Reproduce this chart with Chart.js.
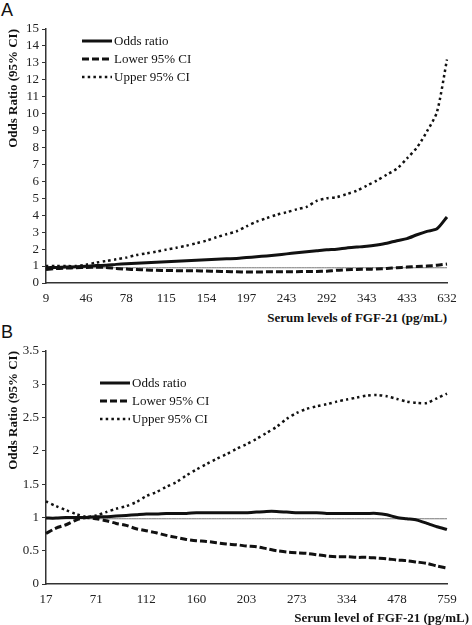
<!DOCTYPE html>
<html>
<head>
<meta charset="utf-8">
<script src="https://cdn.jsdelivr.net/npm/chart.js@4.4.1/dist/chart.umd.min.js"></script>
<style>
  body { margin: 0; background: #fff; width: 472px; height: 625px; position: relative; overflow: hidden; }
  .box { position: absolute; left: 0; width: 472px; }
  .panel { position: absolute; left: 1px; font: 18px "Liberation Sans", Arial, sans-serif; color: #111; }
  .xtitle { position: absolute; font: bold 13px "Liberation Serif", serif; color: #111; white-space: nowrap; }
</style>
</head>
<body>
<div class="panel" style="top:0">A</div>
<div class="box" style="top:0;height:310px"><canvas id="chartA"></canvas></div>
<div class="xtitle" style="top:310px;right:25px">Serum levels of FGF-21 (pg/mL)</div>

<div class="panel" style="top:322px">B</div>
<div class="box" style="top:330px;height:285px"><canvas id="chartB"></canvas></div>
<div class="xtitle" style="top:610px;right:3px">Serum level of FGF-21 (pg/mL)</div>

<script>
// tick labels shown under each x axis
const ticksA = ['9', '46', '78', '115', '154', '197', '243', '292', '343', '433', '632'];
const ticksB = ['17', '71', '112', '160', '203', '273', '334', '478', '759'];

// panel A: values (41 points, a label every 4th)
const oddsA = [0.90, 0.92, 0.94, 0.96, 0.99, 1.03, 1.05, 1.10, 1.14, 1.17,
               1.20, 1.23, 1.25, 1.28, 1.31, 1.34, 1.37, 1.40, 1.43, 1.45,
               1.50, 1.55, 1.60, 1.66, 1.72, 1.78, 1.84, 1.90, 1.96, 2.00,
               2.07, 2.12, 2.17, 2.25, 2.35, 2.50, 2.62, 2.85, 3.05, 3.20, 3.90];
const lowerA = [0.80, 0.85, 0.88, 0.90, 0.92, 0.93, 0.92, 0.86, 0.82, 0.79,
                0.77, 0.75, 0.74, 0.73, 0.72, 0.72, 0.71, 0.69, 0.68, 0.66,
                0.65, 0.65, 0.66, 0.66, 0.67, 0.67, 0.68, 0.68, 0.70, 0.75,
                0.78, 0.80, 0.81, 0.83, 0.86, 0.90, 0.94, 0.97, 1.00, 1.05, 1.12];
const upperA = [1.00, 1.00, 1.00, 1.00, 1.08, 1.20, 1.30, 1.40, 1.50, 1.65,
                1.75, 1.85, 1.97, 2.08, 2.20, 2.35, 2.50, 2.70, 2.88, 3.05,
                3.35, 3.62, 3.83, 4.03, 4.18, 4.35, 4.50, 4.85, 5.00, 5.07,
                5.25, 5.45, 5.75, 6.05, 6.40, 6.75, 7.35, 8.00, 8.95, 10.10, 13.20];
const refA = 0.9;

// panel B: 41 points, a label every 5th
const oddsB = [0.99, 0.99, 1.00, 1.00, 1.00, 1.01, 1.01, 1.02, 1.03, 1.04,
               1.05, 1.05, 1.06, 1.06, 1.06, 1.07, 1.07, 1.07, 1.07, 1.07,
               1.07, 1.08, 1.09, 1.09, 1.08, 1.07, 1.07, 1.07, 1.06, 1.06,
               1.06, 1.06, 1.06, 1.06, 1.04, 1.00, 0.98, 0.96, 0.91, 0.86, 0.82];
const lowerB = [0.76, 0.84, 0.89, 0.96, 1.00, 0.98, 0.95, 0.91, 0.88, 0.83,
                0.80, 0.77, 0.73, 0.70, 0.67, 0.65, 0.64, 0.62, 0.60, 0.59,
                0.57, 0.56, 0.53, 0.50, 0.48, 0.47, 0.46, 0.44, 0.42, 0.41,
                0.41, 0.40, 0.40, 0.39, 0.38, 0.36, 0.35, 0.33, 0.31, 0.27, 0.24];
const upperB = [1.24, 1.17, 1.11, 1.05, 1.01, 1.03, 1.08, 1.13, 1.17, 1.23,
                1.32, 1.38, 1.46, 1.53, 1.63, 1.72, 1.80, 1.88, 1.95, 2.03,
                2.10, 2.18, 2.27, 2.36, 2.48, 2.57, 2.63, 2.67, 2.70, 2.74,
                2.77, 2.80, 2.83, 2.84, 2.82, 2.78, 2.74, 2.72, 2.72, 2.79, 2.86];
const refB = 0.98;

const serif = '"Liberation Serif", "Times New Roman", serif';
const ink = '#111';

// legend drawn inside the plot, using each dataset's own line style
const inlineLegend = {
  id: 'inlineLegend',
  afterDraw(chart, args, opts) {
    const ctx = chart.ctx;
    ctx.save();
    chart.data.datasets.filter(d => !d.noKey).forEach((d, i) => {
      const y = opts.y + i * opts.gap;
      ctx.strokeStyle = d.borderColor;
      ctx.lineWidth = d.borderWidth;
      ctx.setLineDash(d.borderDash || []);
      ctx.beginPath();
      ctx.moveTo(opts.x, y);
      ctx.lineTo(opts.x + opts.len, y);
      ctx.stroke();
      ctx.setLineDash([]);
      ctx.fillStyle = ink;
      ctx.font = '13px ' + serif;
      ctx.textBaseline = 'middle';
      ctx.fillText(d.label, opts.x + opts.len + 2, y + 1);
    });
    ctx.restore();
  }
};

function buildLabels(ticks, every) {
  const n = (ticks.length - 1) * every + 1;
  const out = [];
  for (let i = 0; i < n; i++) out.push(i % every === 0 ? ticks[i / every] : '');
  return out;
}

function makeChart(id, labels, odds, lower, upper, ref, yMax, yStep, pad, xHeight, legendPos) {
  return new Chart(document.getElementById(id), {
    type: 'line',
    data: {
      labels: labels,
      datasets: [
        { label: 'Odds ratio', data: odds, borderColor: ink, borderWidth: 3, borderCapStyle: 'butt' },
        { label: 'Lower 95% CI', data: lower, borderColor: ink, borderWidth: 3, borderDash: [7, 3] },
        { label: 'Upper 95% CI', data: upper, borderColor: ink, borderWidth: 2.5, borderDash: [2.5, 3.2] },
        { label: 'ref', noKey: true, data: labels.map(() => ref), borderColor: '#777', borderWidth: 1 }
      ]
    },
    options: {
      responsive: true,
      maintainAspectRatio: false,
      animation: false,
      layout: { padding: { top: pad, right: 25, left: 0, bottom: 0 } },
      elements: { point: { radius: 0 }, line: { tension: 0.25, fill: false } },
      plugins: {
        legend: { display: false },
        tooltip: { enabled: false },
        inlineLegend: legendPos
      },
      scales: {
        x: {
          offset: false,
          grid: { display: false, drawTicks: false },
          border: { display: true, color: '#333', width: 1.5 },
          ticks: { autoSkip: false, maxRotation: 0, padding: 8, color: '#222', font: { family: serif, size: 13 } },
          afterFit(s) { s.height = xHeight; }
        },
        y: {
          min: 0,
          max: yMax,
          grid: { display: true, drawOnChartArea: false, drawTicks: true, tickLength: 4, color: '#333' },
          border: { display: true, color: '#333', width: 1.5 },
          ticks: {
            stepSize: yStep, autoSkip: false, padding: 3, color: '#222',
            font: { family: serif, size: 13 },
            callback: v => String(v)
          },
          title: {
            display: true, text: 'Odds Ratio (95% CI)', align: 'end', color: ink,
            font: { family: serif, size: 13, weight: 'bold' }, padding: { top: 6, bottom: 0 }
          },
          afterFit(s) { s.width = 46; }
        }
      }
    },
    plugins: [inlineLegend]
  });
}

makeChart('chartA', buildLabels(ticksA, 4), oddsA, lowerA, upperA, refA, 15, 1, 29, 27,
          { x: 82, y: 41, gap: 18, len: 30 });
makeChart('chartB', buildLabels(ticksB, 5), oddsB, lowerB, upperB, refB, 3.5, 0.5, 21, 31,
          { x: 100, y: 53, gap: 18, len: 30 });
</script>
</body>
</html>
